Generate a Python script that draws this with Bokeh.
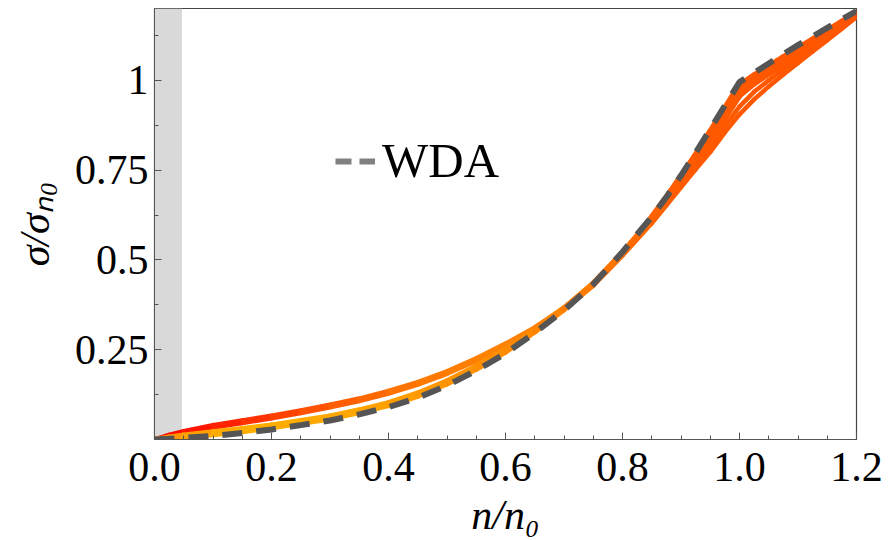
from bokeh.plotting import figure
from bokeh.models import (Range1d, FixedTicker, BoxAnnotation, Legend, LegendItem)
from bokeh.embed import file_html
from bokeh.resources import INLINE

# density grid n/n0 shared by every curve
n_ratio = [0.0, 0.025, 0.05, 0.1, 0.15, 0.2, 0.25, 0.3, 0.35, 0.4, 0.45, 0.5, 0.55,
           0.6, 0.65, 0.7, 0.75, 0.8, 0.85, 0.875, 0.9, 0.925, 0.95, 0.975, 1.0,
           1.025, 1.05, 1.075, 1.1, 1.125, 1.15, 1.175, 1.2]

# weighted-density approximation
sigma_wda = [0.0, 0.002, 0.005, 0.010, 0.018, 0.028, 0.040, 0.053, 0.070, 0.090, 0.116,
             0.150, 0.192, 0.240, 0.297, 0.360, 0.432, 0.522, 0.620, 0.675, 0.735,
             0.798, 0.864, 0.930, 0.995, 1.021, 1.047, 1.073, 1.098, 1.122, 1.146,
             1.170, 1.193]

# simulation family, upper branch at low density (smooth through n0)
sigma_a = [0.0, 0.009, 0.017, 0.033, 0.046, 0.059, 0.074, 0.090, 0.107, 0.128, 0.153,
           0.183, 0.219, 0.260, 0.306, 0.362, 0.428, 0.512, 0.602, 0.652, 0.702,
           0.752, 0.800, 0.855, 0.905, 0.947, 0.983, 1.016, 1.048, 1.080, 1.112,
           1.144, 1.176]
sigma_b = [0.0, 0.013, 0.023, 0.040, 0.053, 0.066, 0.081, 0.097, 0.114, 0.135, 0.160,
           0.190, 0.226, 0.267, 0.312, 0.367, 0.433, 0.516, 0.607, 0.659, 0.712,
           0.765, 0.815, 0.872, 0.927, 0.968, 1.000, 1.030, 1.060, 1.089, 1.118,
           1.148, 1.178]

# simulation family, lower branch at low density (kinked at n0)
sigma_c = [0.0, 0.006, 0.012, 0.021, 0.030, 0.040, 0.052, 0.065, 0.082, 0.102, 0.129,
           0.163, 0.204, 0.251, 0.305, 0.366, 0.435, 0.520, 0.612, 0.667, 0.722,
           0.778, 0.837, 0.898, 0.960, 0.993, 1.020, 1.046, 1.072, 1.098, 1.124,
           1.151, 1.181]
sigma_d = [0.0, 0.003, 0.007, 0.014, 0.022, 0.033, 0.045, 0.058, 0.075, 0.095, 0.121,
           0.155, 0.196, 0.244, 0.300, 0.362, 0.432, 0.520, 0.617, 0.672, 0.730,
           0.790, 0.855, 0.920, 0.985, 1.012, 1.038, 1.063, 1.088, 1.112, 1.137,
           1.162, 1.186]

# excluded low-density strip
excluded_max = 0.047

x_ticks = [0.0, 0.2, 0.4, 0.6, 0.8, 1.0, 1.2]
x_labels = ["0.0", "0.2", "0.4", "0.6", "0.8", "1.0", "1.2"]
x_minor = [i * 0.05 for i in range(25)]
y_ticks = [0.25, 0.5, 0.75, 1.0]
y_labels = ["0.25", "0.5", "0.75", "1"]
y_minor = [0.125, 0.375, 0.625, 0.875, 1.125]

FONT = "Liberation Serif"

# colour ramps along n/n0 for the two branches
upper_stops = [(0.0, "#ff0000"), (0.15, "#ff2a00"), (0.3, "#ff5a00"), (0.45, "#ff7800"),
               (0.6, "#ff8400"), (0.75, "#ff7400"), (0.9, "#ff5a00"), (1.2, "#ff5500")]
lower_stops = [(0.0, "#ff9000"), (0.15, "#ffb000"), (0.35, "#ffa400"), (0.5, "#ff9600"),
               (0.65, "#ff8800"), (0.8, "#ff7000"), (0.9, "#ff5a00"), (1.2, "#ff5500")]


def ramp(stops, x):
    for (x0, c0), (x1, c1) in zip(stops[:-1], stops[1:]):
        if x0 <= x <= x1:
            t = (x - x0) / (x1 - x0)
            a = [int(c0[i:i + 2], 16) for i in (1, 3, 5)]
            b = [int(c1[i:i + 2], 16) for i in (1, 3, 5)]
            return "#%02x%02x%02x" % tuple(round(u + (v - u) * t) for u, v in zip(a, b))
    return stops[-1][1]


p = figure(width=891, height=540, x_range=Range1d(0, 1.2), y_range=Range1d(0, 1.2),
           output_backend="svg", toolbar_location=None,
           min_border_left=154, min_border_right=35, min_border_top=8, min_border_bottom=98)
p.background_fill_color = "white"
p.border_fill_color = "white"
p.xgrid.visible = False
p.ygrid.visible = False
p.outline_line_color = "#444444"
p.outline_line_width = 1.2

p.add_layout(BoxAnnotation(left=0, right=excluded_max, fill_color="#d9d9d9",
                           fill_alpha=1.0, line_alpha=0, level="underlay"))

mids = [(u + v) / 2 for u, v in zip(n_ratio[:-1], n_ratio[1:])]
for curve, stops, w_lo, w_hi in ((sigma_a, upper_stops, 4.5, 4.5),
                                 (sigma_b, upper_stops, 4.5, 4.5),
                                 (sigma_c, lower_stops, 5.5, 7.0),
                                 (sigma_d, lower_stops, 5.5, 7.0)):
    p.segment(x0=n_ratio[:-1], y0=curve[:-1], x1=n_ratio[1:], y1=curve[1:],
              line_color=[ramp(stops, m) for m in mids],
              line_width=[w_hi if m > 0.85 else w_lo for m in mids],
              line_cap="round")

p.line(n_ratio, sigma_wda, line_color="#555555", line_width=6, line_dash="20 14")

# legend entry: a lighter grey dashed sample (single point, so nothing is drawn in the frame)
sample = p.line(n_ratio[:1], sigma_wda[:1], line_color="#808080", line_width=6,
                line_dash="16 8")
legend = Legend(items=[LegendItem(label="WDA", renderers=[sample])],
                location=(181, 250), padding=0, margin=0, spacing=0,
                glyph_width=40, glyph_height=20, label_standoff=7,
                label_text_font=FONT, label_text_font_size="49px",
                label_text_color="black",
                border_line_alpha=0, background_fill_alpha=0)
p.add_layout(legend)

for ax in (p.xaxis[0], p.yaxis[0]):
    ax.axis_line_color = "#555555"
    ax.major_tick_line_color = "#555555"
    ax.minor_tick_line_color = "#555555"
    ax.major_tick_in = 7
    ax.major_tick_out = 0
    ax.minor_tick_in = 4
    ax.minor_tick_out = 0
    ax.major_label_text_font = FONT
    ax.major_label_text_font_size = "42px"
    ax.major_label_text_color = "black"
    ax.axis_label_text_font = FONT
    ax.axis_label_text_font_size = "42px"
    ax.axis_label_text_font_style = "italic"
    ax.axis_label_text_color = "black"

p.xaxis.ticker = FixedTicker(ticks=x_ticks, minor_ticks=x_minor)
p.xaxis.major_label_overrides = {v: s for v, s in zip(x_ticks, x_labels)}
p.xaxis.major_label_standoff = 13
p.xaxis.axis_label = "n/n₀"
p.xaxis.axis_label_standoff = 8

p.yaxis.ticker = FixedTicker(ticks=y_ticks, minor_ticks=y_minor)
p.yaxis.major_label_overrides = {v: s for v, s in zip(y_ticks, y_labels)}
p.yaxis.major_label_standoff = 6
p.yaxis.axis_label = "σ/σₙ₀"
p.yaxis.axis_label_standoff = 14

open("out.html", "w").write(file_html(p, INLINE))
